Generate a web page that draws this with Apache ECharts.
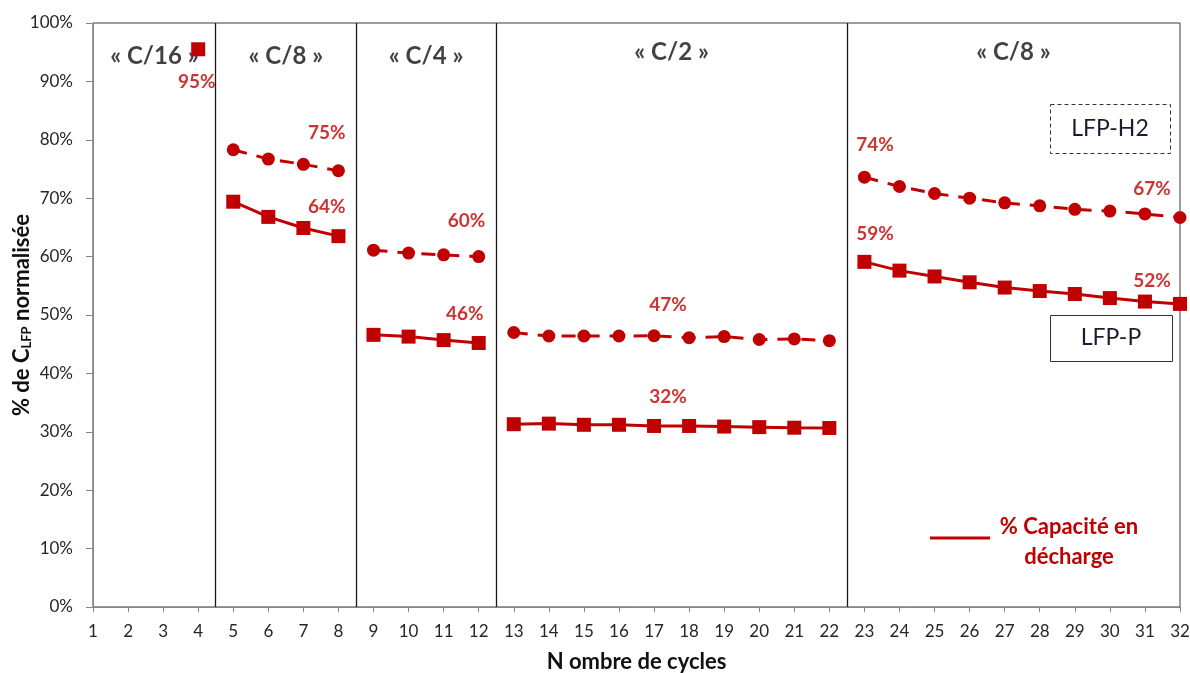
<!DOCTYPE html>
<html>
<head>
<meta charset="utf-8">
<script src="https://cdn.jsdelivr.net/npm/echarts@6/dist/echarts.min.js"></script>
<style>
html,body{margin:0;padding:0;background:#fff;}
#c{width:1190px;height:673px;}
</style>
</head>
<body>
<div id="c"></div>
<script>
// ---- data ----
const cycles = [1,2,3,4,5,6,7,8,9,10,11,12,13,14,15,16,17,18,19,20,21,22,23,24,25,26,27,28,29,30,31,32];
const lfpP  = [null,null,null,95.5, 69.4,66.8,64.9,63.5, 46.6,46.3,45.7,45.2,
               31.3,31.4,31.2,31.2,31.0,31.0,30.9,30.8,30.7,30.65,
               59.1,57.6,56.6,55.6,54.7,54.1,53.6,52.9,52.3,51.9];
const lfpH2 = [null,null,null,null, 78.3,76.7,75.8,74.7, 61.1,60.6,60.3,60.0,
               47.0,46.4,46.4,46.4,46.45,46.1,46.3,45.8,45.9,45.6,
               73.6,72.0,70.8,70.0,69.2,68.7,68.1,67.8,67.3,66.7];
const separators = [4.5, 8.5, 12.5, 22.5];
const phaseNames = ['« C/16 »','« C/8 »','« C/4 »','« C/2 »','« C/8 »'];
const phaseX = [2.75, 6.5, 10.5, 17.5, 27.25];
const phaseY = [94.3, 94.3, 94.3, 95.0, 95.0];
const annText = ['95%','75%','64%','60%','46%','47%','32%','74%','59%','67%','52%'];
const annX = [3.96, 7.67, 7.67, 11.65, 11.6, 17.4, 17.4, 23.3, 23.3, 31.2, 31.2];
const annY = [89.9, 81.2, 68.5, 66.1, 50.2, 51.7, 36.0, 79.1, 63.9, 71.6, 55.8];

const RED = '#C00000';
const FONT = 'Lato, "Open Sans", sans-serif';
const TXT = '#262626';

function build(vals){
  const out = [];
  cycles.forEach((c,i)=>{
    if (separators.indexOf(c-0.5) >= 0) out.push([c-0.5,'-']);
    if (vals[i] !== null) out.push([c, vals[i]]);
  });
  return out;
}

const chart = echarts.init(document.getElementById('c'), null, {renderer:'canvas'});
chart.setOption({
  animation:false,
  backgroundColor:'#fff',
  grid:{left:93,right:10,top:23,bottom:66,show:true,borderColor:'#3a3a3a',borderWidth:1,
        containLabel:false,outerBoundsMode:'none'},
  xAxis:{
    type:'value',min:1,max:32,interval:1,
    name:'N ombre de cycles',nameLocation:'middle',nameGap:44,nameMoveOverlap:false,
    nameTextStyle:{fontFamily:FONT,fontWeight:'bold',fontSize:22,color:'#111'},
    axisLine:{show:true,lineStyle:{color:'#868686',width:1}},
    axisTick:{show:true,length:5,lineStyle:{color:'#868686'}},
    axisLabel:{fontFamily:FONT,fontSize:17,color:TXT,margin:16},
    splitLine:{show:false}
  },
  yAxis:{
    type:'value',min:0,max:100,interval:10,
    name:'{a|% de C}{s|LFP}{a| normalisée}',nameLocation:'middle',nameGap:60,nameMoveOverlap:false,
    nameTextStyle:{rich:{
      a:{fontFamily:FONT,fontWeight:'bold',fontSize:22,color:'#111'},
      s:{fontFamily:FONT,fontWeight:'bold',fontSize:13,color:'#111',padding:[10,0,0,0]}
    }},
    axisLine:{show:true,lineStyle:{color:'#868686',width:1}},
    axisTick:{show:true,length:7,lineStyle:{color:'#868686'}},
    axisLabel:{fontFamily:FONT,fontSize:17,color:TXT,margin:20,formatter:v=>v+'%'},
    splitLine:{show:false}
  },
  series:[
    {
      name:'LFP-H2',type:'line',data:build(lfpH2),connectNulls:false,
      symbol:'circle',symbolSize:13,
      itemStyle:{color:RED},
      lineStyle:{color:RED,width:3,type:[14,10]},
      z:3
    },
    {
      name:'LFP-P',type:'line',data:build(lfpP),connectNulls:false,
      symbol:'rect',symbolSize:14,
      itemStyle:{color:RED},
      lineStyle:{color:RED,width:3},
      z:4,
      markLine:{
        silent:true,symbol:['none','none'],
        label:{show:false},
        lineStyle:{color:'#1a1a1a',width:1.3,type:'solid'},
        data:separators.map(s=>({xAxis:s}))
      }
    },
    {
      name:'ann',type:'scatter',symbolSize:0,silent:true,
      data:annX.map((x,i)=>({value:[x,annY[i]],label:{formatter:annText[i]}})),
      label:{show:true,position:'inside',fontFamily:FONT,fontWeight:'bold',fontSize:19,color:RED},
      z:5
    },
    {
      name:'phase',type:'scatter',symbolSize:0,silent:true,
      data:phaseX.map((x,i)=>({value:[x,phaseY[i]],label:{formatter:phaseNames[i]}})),
      label:{show:true,position:'inside',fontFamily:FONT,fontWeight:'bold',fontSize:24,color:'#111'},
      z:2
    }
  ],
  graphic:[
    {type:'rect',left:1050,top:104,shape:{width:120,height:49},
     style:{fill:'#fff',stroke:'#333',lineWidth:1,lineDash:[4,3]},z:10},
    {type:'text',x:1110,y:129,style:{text:'LFP-H2',font:'23px '+FONT,fill:'#1c1c30',align:'center',verticalAlign:'middle'},z:11},
    {type:'rect',left:1050,top:315,shape:{width:122,height:46},
     style:{fill:'#fff',stroke:'#333',lineWidth:1},z:10},
    {type:'text',x:1111,y:338,style:{text:'LFP-P',font:'23px '+FONT,fill:'#1c1c30',align:'center',verticalAlign:'middle'},z:11},
    {type:'line',shape:{x1:930,y1:538,x2:990,y2:538},style:{stroke:RED,lineWidth:3},z:11},
    {type:'text',x:1069,y:512,style:{text:'% Capacité en\ndécharge',align:'center',font:'bold 22px '+FONT,fill:RED,lineHeight:30},z:11}
  ]
});
</script>
</body>
</html>
